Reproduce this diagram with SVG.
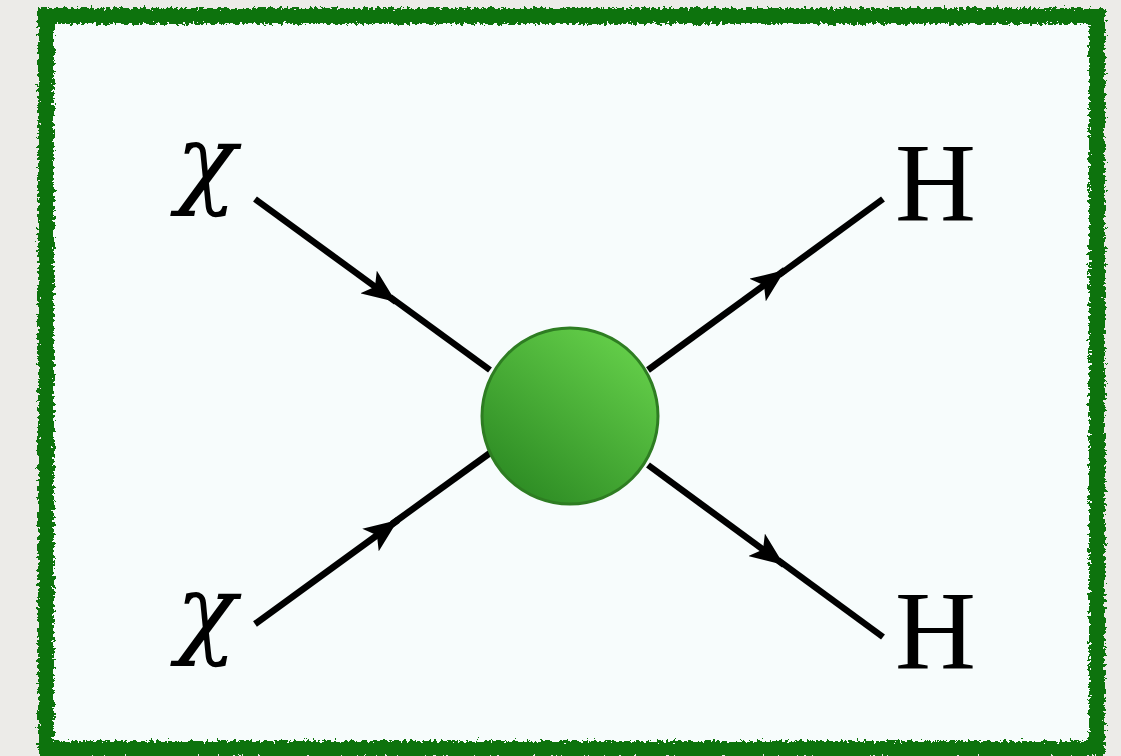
<svg xmlns="http://www.w3.org/2000/svg" width="1121" height="756" viewBox="0 0 1121 756">
<defs>
<filter id="rough" x="-5%" y="-5%" width="110%" height="110%">
<feTurbulence type="fractalNoise" baseFrequency="0.3" numOctaves="3" seed="5" result="n"/>
<feDisplacementMap in="SourceGraphic" in2="n" scale="9" xChannelSelector="R" yChannelSelector="G"/>
</filter>
<linearGradient id="ball" x1="0.8" y1="0.1" x2="0.2" y2="0.9">
<stop offset="0" stop-color="#62cc48"/>
<stop offset="1" stop-color="#2f8e25"/>
</linearGradient>
<marker id="arr" viewBox="0 0 34 28" refX="34" refY="14" markerWidth="34" markerHeight="28" markerUnits="userSpaceOnUse" orient="auto">
<path d="M0,0 L34,14 L0,28 L8,14 Z" fill="#000"/>
</marker>
<style>
.ln{stroke:#000;stroke-width:6.5;fill:none;stroke-linecap:butt}
.lab{fill:#000}
.chi{font-family:"DejaVu Serif","Liberation Serif",serif;font-style:italic;font-size:100px}
.h{font-family:"Liberation Serif","DejaVu Serif",serif;font-size:112px}
</style>
</defs>
<rect width="1121" height="756" fill="#ecebe8"/>
<g id="frame">
<rect x="46" y="16" width="1051" height="733" fill="#f7fcfc"/>
<rect x="46" y="16" width="1051" height="733" fill="none" stroke="#0a730a" stroke-width="16" filter="url(#rough)"/>
</g>
<g id="connectors">
<line class="ln" x1="255" y1="199" x2="396" y2="302" marker-end="url(#arr)"/>
<line class="ln" x1="390" y1="297" x2="490" y2="370"/>
<line class="ln" x1="255" y1="624" x2="398" y2="520" marker-end="url(#arr)"/>
<line class="ln" x1="392" y1="524" x2="490" y2="453"/>
<line class="ln" x1="648" y1="370" x2="785" y2="270" marker-end="url(#arr)"/>
<line class="ln" x1="779" y1="275" x2="883" y2="199"/>
<line class="ln" x1="648" y1="465" x2="784" y2="565" marker-end="url(#arr)"/>
<line class="ln" x1="778" y1="560" x2="883" y2="637"/>
</g>
<g id="vertex">
<circle cx="570" cy="416" r="88" fill="url(#ball)" stroke="#2e7d22" stroke-width="3"/>
</g>
<g id="chi-in-1"><text class="lab chi" x="176" y="195">χ</text></g>
<g id="chi-in-2"><text class="lab chi" x="176" y="645">χ</text></g>
<g id="h-out-1"><text class="lab h" x="895" y="220">H</text></g>
<g id="h-out-2"><text class="lab h" x="895" y="668">H</text></g>
</svg>
